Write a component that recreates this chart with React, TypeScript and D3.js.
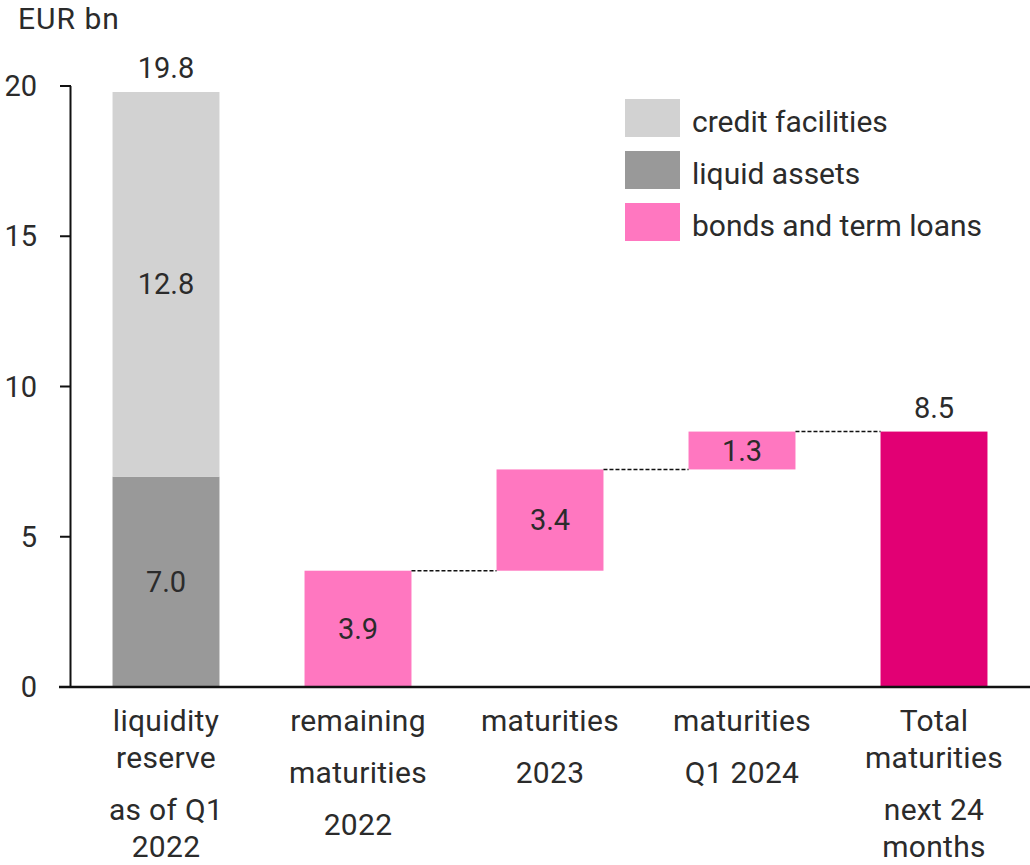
import React from "react";
import * as d3 from "d3";

const categories = ["reserve", "remaining2022", "mat2023", "matQ12024", "total"];
const categoryLabels: string[][][] = [
  [["liquidity", "reserve"], ["as of Q1", "2022"]],
  [["remaining"], ["maturities"], ["2022"]],
  [["maturities"], ["2023"]],
  [["maturities"], ["Q1 2024"]],
  [["Total", "maturities"], ["next 24", "months"]],
];
const liquidAssets = 7.0;
const creditFacilities = 12.8;
const maturitySteps = [3.87, 3.37, 1.26];
const totalMaturities = 8.5;
const yTicks = [0, 5, 10, 15, 20];
const legendItems = ["credit facilities", "liquid assets", "bonds and term loans"];

const COLORS = {
  credit: "#d2d2d2",
  liquid: "#999999",
  bonds: "#ff77c0",
  total: "#e20074",
  text: "#2b2b2b",
  axis: "#111111",
};
const FONT = "Roboto, 'Liberation Sans', sans-serif";
const FS = 29;
const WFS = 30;
const LS = 0.3;
const FW = 400;

export default function App() {
  const width = 1030;
  const height = 865;
  const x = d3
    .scaleBand<string>()
    .domain(categories)
    .range([70, 1030])
    .paddingInner(0.443)
    .paddingOuter(0.2215);
  const y = d3.scaleLinear().domain([0, 20]).range([687, 86]);
  const bw = x.bandwidth();
  const fmt = d3.format(".1f");

  const steps: { cat: string; y0: number; y1: number; v: number }[] = [];
  let acc = 0;
  maturitySteps.forEach((v, i) => {
    steps.push({ cat: categories[i + 1], y0: acc, y1: acc + v, v });
    acc += v;
  });
  const reserveTotal = liquidAssets + creditFacilities;

  const connectors = steps.map((s, i) => ({
    from: s.cat,
    to: categories[i + 2],
    v: s.y1,
  }));

  const paraGap = 52;
  const wrapGap = 37;
  const labelTop = 731;

  return (
    <svg
      width={width}
      height={height}
      style={{ position: "absolute", left: 0, top: 0, background: "#fff" }}
      fontFamily={FONT}
      fontWeight={FW}
    >
      <text x={18} y={29} fontSize={WFS} letterSpacing={1.0} fill={COLORS.text}>
        EUR bn
      </text>

      <rect
        x={x(categories[0])}
        y={y(liquidAssets)}
        width={bw}
        height={y(0) - y(liquidAssets)}
        fill={COLORS.liquid}
      />
      <rect
        x={x(categories[0])}
        y={y(reserveTotal)}
        width={bw}
        height={y(liquidAssets) - y(reserveTotal)}
        fill={COLORS.credit}
      />
      <text
        x={x(categories[0])! + bw / 2}
        y={y(liquidAssets / 2)}
        dy={10}
        textAnchor="middle"
        fontSize={FS}
        fill={COLORS.text}
      >
        {fmt(liquidAssets)}
      </text>
      <text
        x={x(categories[0])! + bw / 2}
        y={y(liquidAssets + creditFacilities / 2)}
        dy={10}
        textAnchor="middle"
        fontSize={FS}
        fill={COLORS.text}
      >
        {fmt(creditFacilities)}
      </text>
      <text
        x={x(categories[0])! + bw / 2}
        y={y(reserveTotal) - 14}
        textAnchor="middle"
        fontSize={FS}
        fill={COLORS.text}
      >
        {fmt(reserveTotal)}
      </text>

      {steps.map((s) => (
        <g key={s.cat}>
          <rect
            x={x(s.cat)}
            y={y(s.y1)}
            width={bw}
            height={y(s.y0) - y(s.y1)}
            fill={COLORS.bonds}
          />
          <text
            x={x(s.cat)! + bw / 2}
            y={y((s.y0 + s.y1) / 2)}
            dy={10}
            textAnchor="middle"
            fontSize={FS}
            fill={COLORS.text}
          >
            {fmt(s.v)}
          </text>
        </g>
      ))}

      <rect
        x={x(categories[4])}
        y={y(totalMaturities)}
        width={bw}
        height={y(0) - y(totalMaturities)}
        fill={COLORS.total}
      />
      <text
        x={x(categories[4])! + bw / 2}
        y={y(totalMaturities) - 14}
        textAnchor="middle"
        fontSize={FS}
        fill={COLORS.text}
      >
        {fmt(totalMaturities)}
      </text>

      {connectors.map((c, i) => (
        <line
          key={i}
          x1={x(c.from)! + bw}
          x2={x(c.to)!}
          y1={y(c.v)}
          y2={y(c.v)}
          stroke="#111"
          strokeWidth={1.5}
          strokeDasharray="4,2"
        />
      ))}

      <line x1={70.5} x2={70.5} y1={y(20)} y2={y(0)} stroke={COLORS.axis} strokeWidth={2} />
      {yTicks.map((t) => (
        <g key={t}>
          <line x1={60} x2={71} y1={y(t)} y2={y(t)} stroke={COLORS.axis} strokeWidth={2} />
          <text
            x={37}
            y={y(t)}
            dy={10}
            textAnchor="end"
            fontSize={FS}
            fill={COLORS.text}
          >
            {t}
          </text>
        </g>
      ))}
      <line x1={59} x2={1030} y1={y(0)} y2={y(0)} stroke={COLORS.axis} strokeWidth={2.5} />

      {categories.map((c, i) => {
        const lines: { t: string; yy: number }[] = [];
        let yy = labelTop;
        categoryLabels[i].forEach((para, pi) => {
          para.forEach((t, li) => {
            if (pi > 0 && li === 0) yy += paraGap;
            else if (li > 0) yy += wrapGap;
            lines.push({ t, yy });
          });
        });
        return (
          <g key={c}>
            {lines.map((l, j) => (
              <text
                key={j}
                x={x(c)! + bw / 2}
                y={l.yy}
                textAnchor="middle"
                fontSize={WFS}
                letterSpacing={LS}
                fill={COLORS.text}
              >
                {l.t}
              </text>
            ))}
          </g>
        );
      })}

      {legendItems.map((name, i) => (
        <g key={name} transform={`translate(625, ${99 + i * 52})`}>
          <rect
            width={55}
            height={38}
            fill={[COLORS.credit, COLORS.liquid, COLORS.bonds][i]}
          />
          <text x={67} y={23} dy={10} fontSize={WFS} fill={COLORS.text}>
            {name}
          </text>
        </g>
      ))}
    </svg>
  );
}
